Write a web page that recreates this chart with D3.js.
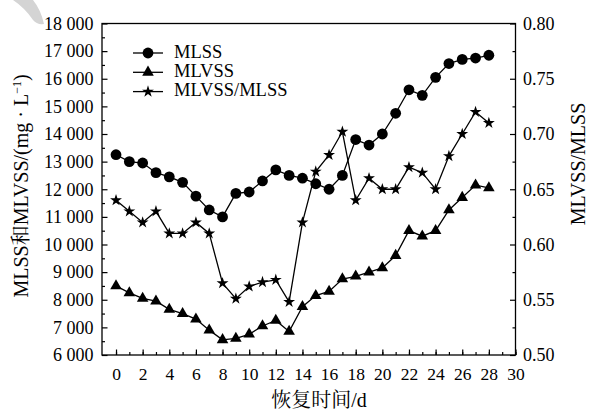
<!DOCTYPE html>
<html>
<head>
<meta charset="utf-8">
<script src="https://cdn.jsdelivr.net/npm/d3@7"></script>
<style>
  html, body { margin: 0; padding: 0; background: #fff; }
  svg { display: block; }
</style>
</head>
<body>
<svg id="chart" width="590" height="415"></svg>
<script>
// Recovery days
const days = [0,1,2,3,4,5,6,7,8,9,10,11,12,13,14,15,16,17,18,19,20,21,22,23,24,25,26,27,28];
// MLSS, mg/L
const mlss = [13250,13000,12950,12600,12450,12250,11750,11250,11000,11850,11900,12300,12700,12500,12400,12200,12000,12500,13800,13600,14000,14750,15600,15400,16050,16550,16700,16750,16850];
// MLVSS, mg/L
const mlvss = [8500,8250,8050,7950,7650,7500,7300,6900,6550,6600,6750,7050,7250,6850,7750,8150,8300,8750,8850,9000,9150,9600,10500,10300,10500,11250,11700,12150,12050];
// MLVSS/MLSS ratio
const ratio = [0.64,0.63,0.62,0.63,0.61,0.61,0.62,0.61,0.565,0.551,0.562,0.566,0.568,0.548,0.62,0.666,0.681,0.702,0.64,0.66,0.65,0.65,0.67,0.665,0.65,0.68,0.70,0.72,0.71];

const xTicks = [0,2,4,6,8,10,12,14,16,18,20,22,24,26,28,30];
const leftTicks = [6000,7000,8000,9000,10000,11000,12000,13000,14000,15000,16000,17000,18000];
const rightTicks = [0.50,0.55,0.60,0.65,0.70,0.75,0.80];
const legendNames = ["MLSS", "MLVSS", "MLVSS/MLSS"];
const xTitle = "恢复时间/d";
const rightTitle = "MLVSS/MLSS";

const FONT = "'Liberation Serif', 'Noto Serif CJK SC', serif";

const svg = d3.select("#chart");
const L = 102, R = 515.5, T = 23.5, B = 355;

const x = d3.scaleLinear().domain([-1, 30]).range([102.7, R]);
const yL = d3.scaleLinear().domain([6000, 18000]).range([B, T]);
const yR = d3.scaleLinear().domain([0.5, 0.8]).range([B, T]);

const fmtThousands = d => d3.format(",")(d).replace(",", " ");

// faint grey brush stroke in the top-left corner
svg.append("path")
  .attr("d", "M13,0 L33,0 Q41,10 44,24 Q37,25 33,20 Q25,8 13,0 Z")
  .attr("fill", "#d4d4d4");

// frame
svg.append("rect").attr("x", L).attr("y", T).attr("width", R - L).attr("height", B - T)
  .attr("fill", "none").attr("stroke", "#000").attr("stroke-width", 1.3);

function styleAxis(size) {
  return g => {
    g.attr("font-family", null).attr("font-size", null);
    g.select(".domain").remove();
    g.selectAll("line").attr("stroke", "#000").attr("stroke-width", 1.2);
    g.selectAll("text").style("font-family", FONT).style("font-size", size + "px").attr("fill", "#000");
  };
}

// bottom axis: minor ticks every day, labels every 2 days
svg.append("g").attr("transform", `translate(0,${B})`)
  .call(d3.axisBottom(x).tickValues(d3.range(0, 31, 1)).tickSize(-3).tickFormat(""))
  .call(styleAxis(17.5));
svg.append("g").attr("transform", `translate(0,${B})`)
  .call(d3.axisBottom(x).tickValues(xTicks).tickSize(-5.5).tickPadding(12.5).tickFormat(d3.format("d")))
  .call(styleAxis(17.5));

// left axis
svg.append("g").attr("transform", `translate(${L},0)`)
  .call(d3.axisLeft(yL).tickValues(d3.range(6500, 18000, 1000)).tickSize(-3).tickFormat(""))
  .call(styleAxis(18));
svg.append("g").attr("transform", `translate(${L},0)`)
  .call(d3.axisLeft(yL).tickValues(leftTicks).tickSize(-5.5).tickPadding(8.5).tickFormat(fmtThousands))
  .call(styleAxis(18));

// right axis
svg.append("g").attr("transform", `translate(${R},0)`)
  .call(d3.axisRight(yR).tickValues(d3.range(0.525, 0.8, 0.05)).tickSize(-3).tickFormat(""))
  .call(styleAxis(18));
svg.append("g").attr("transform", `translate(${R},0)`)
  .call(d3.axisRight(yR).tickValues(rightTicks).tickSize(-5.5).tickPadding(7.5).tickFormat(d3.format(".2f")))
  .call(styleAxis(18));

// axis titles
svg.append("text").attr("x", 319).attr("y", 407).attr("text-anchor", "middle")
  .style("font-family", FONT).style("font-size", "20px").text(xTitle);

const lt = svg.append("text").attr("transform", "translate(28,186) rotate(-90)")
  .attr("text-anchor", "middle").style("font-family", FONT).style("font-size", "20px");
lt.append("tspan").text("MLSS和MLVSS/(mg · L");
lt.append("tspan").attr("dy", -7).style("font-size", "12px").text("−1");
lt.append("tspan").attr("dy", 7).text(")");

svg.append("text").attr("transform", "translate(585,164) rotate(-90)")
  .attr("text-anchor", "middle").style("font-family", FONT).style("font-size", "20px").text(rightTitle);

// series
const series = [
  { vals: mlss, y: yL, sym: "circle" },
  { vals: mlvss, y: yL, sym: "triangle" },
  { vals: ratio, y: yR, sym: "star" }
];

function drawMarker(g, sym, cx, cy) {
  if (sym === "circle") {
    g.append("circle").attr("cx", cx).attr("cy", cy).attr("r", 5.4).attr("fill", "#000");
  } else if (sym === "triangle") {
    g.append("path").attr("d", d3.symbol(d3.symbolTriangle, 58)())
      .attr("transform", `translate(${cx},${cy})`).attr("fill", "#000");
  } else {
    g.append("path").attr("d", d3.symbol(d3.symbolStar, 44)())
      .attr("transform", `translate(${cx},${cy})`).attr("fill", "#000");
  }
}

series.forEach(s => {
  const line = d3.line().x((d, i) => x(days[i])).y(d => s.y(d));
  svg.append("path").datum(s.vals).attr("d", line)
    .attr("fill", "none").attr("stroke", "#000").attr("stroke-width", 1.3);
  const g = svg.append("g");
  s.vals.forEach((v, i) => drawMarker(g, s.sym, x(days[i]), s.y(v)));
});

// legend
const legendRows = [53, 72.3, 91.6];
series.forEach((s, i) => {
  const ly = legendRows[i];
  svg.append("line").attr("x1", 133).attr("x2", 163).attr("y1", ly).attr("y2", ly)
    .attr("stroke", "#000").attr("stroke-width", 1.3);
  drawMarker(svg, s.sym, 148, ly);
  svg.append("text").attr("x", 174).attr("y", ly + 4.7)
    .style("font-family", FONT).style("font-size", "18.5px").text(legendNames[i]);
});
</script>
</body>
</html>
